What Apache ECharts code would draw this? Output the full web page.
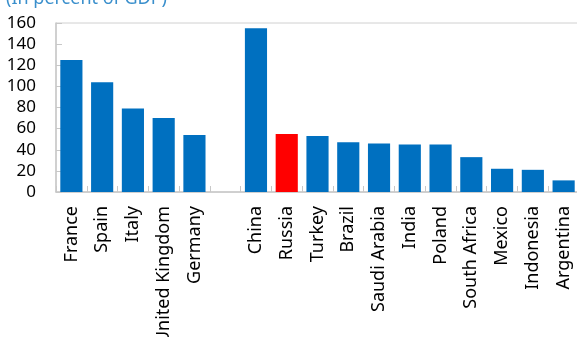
<!DOCTYPE html>
<html>
<head>
<meta charset="utf-8">
<script src="https://cdn.jsdelivr.net/npm/echarts@6/dist/echarts.min.js"></script>
<style>
    html, body { margin: 0; padding: 0; background: #fff; }
    #chart { width: 577px; height: 337px; }
</style>
</head>
<body>
<div id="chart"></div>
<script>
// 数据
const countries = ['France', 'Spain', 'Italy', 'United Kingdom', 'Germany', '',
    'China', 'Russia', 'Turkey', 'Brazil', 'Saudi Arabia', 'India', 'Poland',
    'South Africa', 'Mexico', 'Indonesia', 'Argentina'];
const debtValues = [125, 104, 79, 70, 54, null,
    155, 55, 53, 47, 46, 45, 45, 33, 22, 21, 11];
const highlightCountry = 'Russia';
const yTicks = [0, 20, 40, 60, 80, 100, 120, 140, 160];

const chart = echarts.init(document.getElementById('chart'));

const barData = debtValues.map((v, i) => ({
    value: v,
    itemStyle: { color: countries[i] === highlightCountry ? '#ff0000' : '#0070c0' }
}));

chart.setOption({
    animation: false,
    textStyle: { fontFamily: 'Noto Sans' },
    graphic: [{
        type: 'text',
        left: 6,
        top: -10,
        style: { text: '(In percent of GDP)', fill: '#3a8fcc', fontSize: 18, fontFamily: 'Noto Sans' }
    }],
    grid: {
        left: 56, top: 23, right: -2, bottom: 145,
        outerBoundsMode: 'none',
        containLabel: false,
        show: true, borderColor: '#d0d0d0', borderWidth: 1
    },
    xAxis: {
        type: 'category',
        data: countries,
        axisLine: { lineStyle: { color: '#c8c8c8', width: 1.5 } },
        axisTick: { show: true, inside: true, length: 6, lineStyle: { color: '#c8c8c8' } },
        axisLabel: { rotate: 90, interval: 0, color: '#000', fontSize: 18, margin: 14 }
    },
    yAxis: {
        type: 'value',
        min: yTicks[0],
        max: yTicks[yTicks.length - 1],
        interval: 20,
        splitLine: { show: false },
        axisLine: { show: true, lineStyle: { color: '#c8c8c8', width: 1.5 } },
        axisTick: { show: true, inside: true, length: 6, lineStyle: { color: '#c8c8c8' } },
        axisLabel: { color: '#000', fontSize: 17, margin: 20 }
    },
    series: [{
        type: 'bar',
        barWidth: '72%',
        data: barData
    }]
});
</script>
</body>
</html>
